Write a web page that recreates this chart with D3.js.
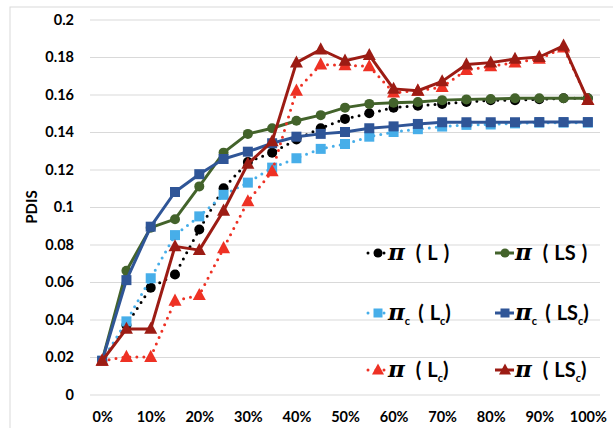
<!DOCTYPE html>
<html>
<head>
<meta charset="utf-8">
<script src="https://cdn.jsdelivr.net/npm/d3@7"></script>
<style>
  body { margin: 0; background: #fff; }
  svg { display: block; }
  text { font-family: Lato, "Open Sans", sans-serif; font-weight: bold; }
</style>
</head>
<body>
<svg id="chart" width="613" height="428"></svg>
<script>
// categories (x axis)
const cats = ['0%','5%','10%','15%','20%','25%','30%','35%','40%','45%','50%',
  '55%','60%','65%','70%','75%','80%','85%','90%','95%','100%'];
const xTickLabels = ['0%','10%','20%','30%','40%','50%','60%','70%','80%','90%','100%'];
const yTicks = [0,0.02,0.04,0.06,0.08,0.1,0.12,0.14,0.16,0.18,0.2];

// series values
const piL   = [0.018,0.037,0.057,0.064,0.088,0.110,0.124,0.129,0.136,0.142,0.147,0.150,0.153,0.154,0.155,0.156,0.157,0.157,0.1575,0.158,0.158];
const piLS  = [0.018,0.066,0.089,0.0935,0.111,0.129,0.139,0.142,0.146,0.149,0.153,0.155,0.1556,0.156,0.157,0.1574,0.1576,0.158,0.158,0.158,0.158];
const picLc = [0.018,0.039,0.062,0.085,0.095,0.1065,0.113,0.121,0.126,0.131,0.1336,0.1375,0.140,0.1415,0.1429,0.1438,0.144,0.1446,0.145,0.145,0.145];
const picLSc= [0.018,0.061,0.0895,0.108,0.1175,0.1256,0.1295,0.134,0.1375,0.139,0.140,0.142,0.143,0.1443,0.1452,0.1452,0.1452,0.1452,0.1453,0.1453,0.1453];
const piLc  = [0.018,0.020,0.020,0.050,0.053,0.078,0.103,0.119,0.162,0.176,0.1755,0.175,0.161,0.162,0.164,0.173,0.175,0.177,0.179,0.185,0.157];
const piLSc = [0.018,0.035,0.035,0.079,0.077,0.098,0.123,0.135,0.177,0.184,0.178,0.181,0.163,0.162,0.167,0.176,0.177,0.179,0.180,0.186,0.157];

const series = [
  { name: 'L',   sub: false, nameSub: false, values: piL,    color: '#000000', dotted: true,  marker: 'circle' },
  { name: 'LS',  sub: false, nameSub: false, values: piLS,   color: '#43632b', dotted: false, marker: 'circle' },
  { name: 'L',   sub: true,  nameSub: true,  values: picLc,  color: '#47aee9', dotted: true,  marker: 'square' },
  { name: 'LS',  sub: true,  nameSub: true,  values: picLSc, color: '#2f5597', dotted: false, marker: 'square' },
  { name: 'L',   sub: false, nameSub: true,  values: piLc,   color: '#ee3124', dotted: true,  marker: 'triangle' },
  { name: 'LS',  sub: false, nameSub: true,  values: piLSc,  color: '#9c1c14', dotted: false, marker: 'triangle' }
];

const svg = d3.select('#chart');

// chart border
svg.append('rect')
  .attr('x', 10).attr('y', 7).attr('width', 640).attr('height', 440)
  .attr('fill', 'none').attr('stroke', '#d9d9d9');

// scales
const x = d3.scalePoint().domain(cats).range([90, 600]).padding(0.5);
const y = d3.scaleLinear().domain([0, 0.2]).range([394.5, 19.5]);

// y axis + gridlines
const gy = svg.append('g')
  .attr('transform', 'translate(90,0)')
  .call(d3.axisLeft(y).tickValues(yTicks).tickSize(-510).tickPadding(16)
    .tickFormat(d => d === 0 ? '0' : String(+d.toFixed(2))));
gy.select('.domain').remove();
gy.selectAll('line').attr('stroke', '#d9d9d9').attr('stroke-width', 1);
gy.selectAll('text').attr('font-size', 14.5).attr('fill', '#000');

// x axis
const gx = svg.append('g')
  .attr('transform', 'translate(0,394.5)')
  .call(d3.axisBottom(x).tickValues(xTickLabels).tickSize(0).tickPadding(17));
gx.select('.domain').remove();
gx.selectAll('text').attr('font-size', 14.5).attr('fill', '#000');

// y title
svg.append('text')
  .attr('transform', 'translate(37,207) rotate(-90)')
  .attr('text-anchor', 'middle')
  .attr('font-size', 15)
  .text('PDIS');

const line = d3.line().x((d, i) => x(cats[i])).y(d => y(d));

function drawMarker(g, type, cx, cy, color, small) {
  if (type === 'circle') {
    g.append('circle').attr('cx', cx).attr('cy', cy).attr('r', small ? 4.5 : 5).attr('fill', color);
  } else if (type === 'square') {
    const s = small ? 9 : 10;
    g.append('rect').attr('x', cx - s / 2).attr('y', cy - s / 2).attr('width', s).attr('height', s).attr('fill', color);
  } else {
    const s = small ? 6 : 6.5;
    g.append('path')
      .attr('d', `M${cx},${cy - s * 1.1}L${cx + s},${cy + s * 0.75}L${cx - s},${cy + s * 0.75}Z`)
      .attr('fill', color);
  }
}

series.forEach(s => {
  const g = svg.append('g');
  g.append('path')
    .datum(s.values)
    .attr('d', line)
    .attr('fill', 'none')
    .attr('stroke', s.color)
    .attr('stroke-width', 3)
    .attr('stroke-linecap', s.dotted ? 'round' : 'butt')
    .attr('stroke-linejoin', 'round')
    .attr('stroke-dasharray', s.dotted ? '0 7' : null);
  s.values.forEach((v, i) => drawMarker(g, s.marker, x(cats[i]), y(v), s.color));
});

// legend
const legendCols = [367, 494];
const legendRows = [253, 313, 370];
series.forEach((s, i) => {
  const lx = legendCols[i % 2], ly = legendRows[Math.floor(i / 2)];
  const g = svg.append('g');
  g.append('line')
    .attr('x1', lx + 1).attr('x2', lx + 20).attr('y1', ly).attr('y2', ly)
    .attr('stroke', s.color).attr('stroke-width', 3)
    .attr('stroke-linecap', s.dotted ? 'round' : 'butt')
    .attr('stroke-dasharray', s.dotted ? '0 8' : null);
  drawMarker(g, s.marker, lx + 11, ly, s.color, true);
  const t = g.append('text')
    .attr('x', lx + 21).attr('y', ly + 7)
    .attr('font-size', 20);
  t.append('tspan').attr('font-family', '"DejaVu Serif", serif').attr('font-style', 'italic')
    .attr('font-size', 23).text('π');
  if (s.sub) t.append('tspan').attr('font-size', 11).attr('dy', 5).attr('dx', 0).text('c');
  t.append('tspan').attr('dy', s.sub ? -5 : 0).attr('dx', s.sub ? 8 : 11).text('(');
  t.append('tspan').attr('dx', 6).text(s.name);
  if (s.nameSub) t.append('tspan').attr('font-size', 11).attr('dy', 5).text('c');
  t.append('tspan').attr('dy', s.nameSub ? -5 : 0).attr('dx', s.nameSub ? 0 : 6).text(')');
});
</script>
</body>
</html>
